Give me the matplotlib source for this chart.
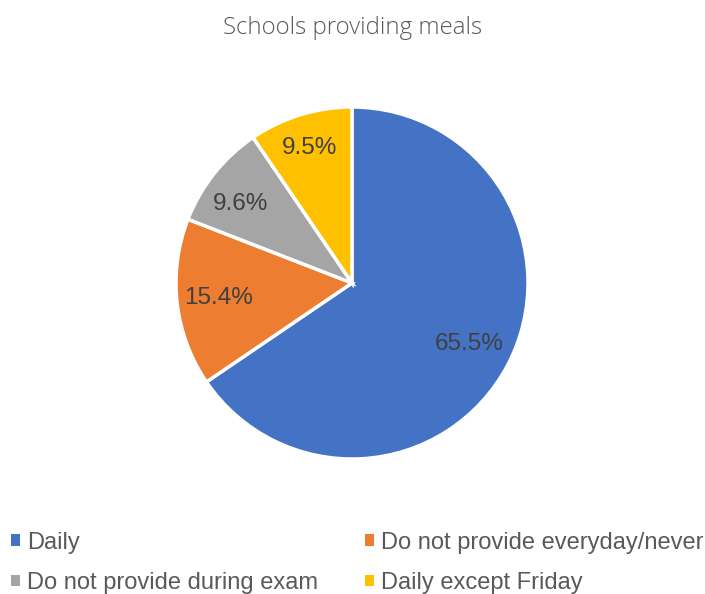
import matplotlib.pyplot as plt
from matplotlib.patches import Patch

labels = ['Daily', 'Do not provide everyday/never',
          'Do not provide during exam', 'Daily except Friday']
values = [65.5, 15.4, 9.6, 9.5]
colors = ['#4472C4', '#ED7D31', '#A5A5A5', '#FFC000']
# where excel put the % labels, in pie radii from the centre
label_xy = [(0.665, -0.345), (-0.756, -0.084), (-0.636, 0.450), (-0.239, 0.768)]

W, H = 705, 594
fig = plt.figure(figsize=(W / 100, H / 100), dpi=100)

# pie centre (352, 283) px from top, radius 176 px
cx, cy, r = 352, 283, 176
ax = fig.add_axes([(cx - r) / W, (H - cy - r) / H, 2 * r / W, 2 * r / H])
wedges, texts, autotexts = ax.pie(
    values, colors=colors, startangle=90, counterclock=False,
    autopct='%.1f%%',
    wedgeprops=dict(edgecolor='white', linewidth=2.5),
    textprops=dict(color='#404040', fontsize=17.5, family='Liberation Sans'))
for t, xy in zip(autotexts, label_xy):
    t.set_position(xy)
ax.set_xlim(-1, 1)
ax.set_ylim(-1, 1)

fig.text(0.5, 1 - 28 / H, 'Schools providing meals', ha='center', va='center',
         fontsize=17.3, color='#595959', family='Open Sans', weight='light')

order = [0, 2, 1, 3]   # legend reads row by row
handles = [Patch(facecolor=colors[i], edgecolor='none') for i in order]
fig.legend(handles, [labels[i] for i in order], loc='upper left', ncol=2,
           bbox_to_anchor=(-0.008, 1 - 515 / H), frameon=False,
           prop=dict(family='Liberation Sans', size=17.0),
           labelcolor='#595959', handlelength=0.4, handleheight=0.4,
           handletextpad=0.3, columnspacing=1.97, labelspacing=0.78,
           borderaxespad=0.3)

fig.savefig('out.png', dpi=100)
